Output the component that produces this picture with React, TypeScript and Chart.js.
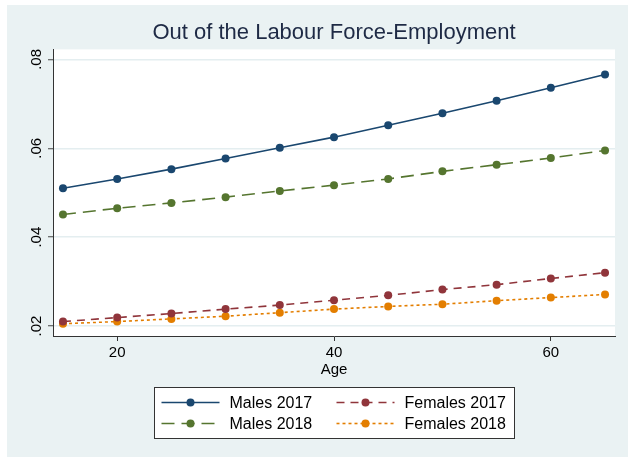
import React, { useEffect, useRef } from "react";
import { Chart, registerables } from "chart.js";

Chart.register(...registerables);

// Age groups on the horizontal axis
const ages = [15, 20, 25, 30, 35, 40, 45, 50, 55, 60, 65];

// Predicted probabilities by age
const males2017 = [0.051, 0.0531, 0.0553, 0.0577, 0.0601, 0.0625, 0.0652, 0.0679, 0.0707, 0.0736, 0.0766];
const males2018 = [0.0451, 0.0465, 0.0477, 0.049, 0.0504, 0.0517, 0.0531, 0.0548, 0.0563, 0.0578, 0.0595];
const females2017 = [0.021, 0.0219, 0.0228, 0.0238, 0.0247, 0.0258, 0.0269, 0.0282, 0.0293, 0.0307, 0.032];
const females2018 = [0.0205, 0.021, 0.0216, 0.0222, 0.023, 0.0238, 0.0244, 0.0249, 0.0257, 0.0264, 0.0271];

const xTicks = [20, 40, 60];
const yTicks = [0.02, 0.04, 0.06, 0.08];

const seriesLabels = ["Males 2017", "Males 2018", "Females 2017", "Females 2018"];
const seriesColors = ["#1a476f", "#55752f", "#90353b", "#e37e00"];
const seriesDashes: number[][] = [[], [13, 7], [8, 6], [3, 3]];

const FONT = '"Liberation Sans", Arial, Helvetica, sans-serif';
const BG = "#eaf2f3";

const fmtY = (v: number) => v.toFixed(2).replace(/^0/, "");

const backgroundPlugin = {
  id: "stataBackground",
  beforeDraw(chart: any) {
    const { ctx, width, height, chartArea } = chart;
    ctx.save();
    ctx.fillStyle = "#ffffff";
    ctx.fillRect(0, 0, width, height);
    ctx.fillStyle = BG;
    ctx.fillRect(7, 5, width - 7, height - 5);
    ctx.fillStyle = "#ffffff";
    ctx.fillRect(chartArea.left, chartArea.top, chartArea.right - chartArea.left, chartArea.bottom - chartArea.top);
    ctx.restore();
  },
};

// Vertical (rotated) labels on the y axis
const yLabelPlugin = {
  id: "rotatedYLabels",
  afterDraw(chart: any) {
    const { ctx } = chart;
    const y = chart.scales.y;
    ctx.save();
    ctx.fillStyle = "#000";
    ctx.font = `15px ${FONT}`;
    ctx.textAlign = "center";
    ctx.textBaseline = "alphabetic";
    y.ticks.forEach((t: any) => {
      const py = y.getPixelForValue(t.value);
      ctx.save();
      ctx.translate(y.right - 12, py);
      ctx.rotate(-Math.PI / 2);
      ctx.fillText(fmtY(t.value), 0, 0);
      ctx.restore();
    });
    ctx.restore();
  },
};

// Two-column legend with line + marker samples
const legendPlugin = {
  id: "boxLegend",
  afterDraw(chart: any) {
    const { ctx, chartArea } = chart;
    const cx = (chartArea.left + chartArea.right) / 2;
    const w = 360;
    const h = 51;
    const left = Math.round(cx - w / 2) + 0.5;
    const top = Math.round(chartArea.bottom + 51) + 0.5;
    ctx.save();
    ctx.fillStyle = "#ffffff";
    ctx.fillRect(left, top, w, h);
    ctx.strokeStyle = "#333";
    ctx.lineWidth = 1;
    ctx.strokeRect(left, top, w, h);

    const order = [0, 2, 1, 3];
    order.forEach((di, i) => {
      const ds = chart.data.datasets[di];
      const col = i % 2;
      const row = Math.floor(i / 2);
      const x0 = left + 7 + col * 175;
      const yy = top + 15 + row * 21;
      ctx.save();
      ctx.strokeStyle = ds.borderColor;
      ctx.lineWidth = ds.borderWidth;
      ctx.setLineDash(ds.borderDash || []);
      ctx.beginPath();
      ctx.moveTo(x0, yy);
      ctx.lineTo(x0 + 58, yy);
      ctx.stroke();
      ctx.setLineDash([]);
      ctx.fillStyle = ds.pointBackgroundColor;
      ctx.beginPath();
      ctx.arc(x0 + 29, yy, 4, 0, Math.PI * 2);
      ctx.fill();
      ctx.restore();
      ctx.fillStyle = "#000";
      ctx.font = `16px ${FONT}`;
      ctx.textAlign = "left";
      ctx.textBaseline = "middle";
      ctx.fillText(ds.label, x0 + 68, yy + 1);
    });
    ctx.restore();
  },
};

export default function App() {
  const canvasRef = useRef<HTMLCanvasElement | null>(null);

  useEffect(() => {
    if (!canvasRef.current) return;
    const seriesData = [males2017, males2018, females2017, females2018];
    const datasets = seriesData.map((vals, i) => ({
      label: seriesLabels[i],
      data: ages.map((a, j) => ({ x: a, y: vals[j] })),
      borderColor: seriesColors[i],
      backgroundColor: seriesColors[i],
      pointBackgroundColor: seriesColors[i],
      pointBorderWidth: 0,
      pointRadius: 4,
      borderWidth: 1.6,
      borderDash: seriesDashes[i],
      tension: 0,
      fill: false,
    }));

    const chart = new Chart(canvasRef.current, {
      type: "line",
      data: { datasets },
      options: {
        responsive: false,
        animation: false,
        devicePixelRatio: 1,
        layout: { padding: { left: 7, right: 13, top: 0, bottom: 78 } },
        scales: {
          x: {
            type: "linear",
            min: 14.08,
            max: 65.92,
            afterBuildTicks: (s: any) => {
              s.ticks = xTicks.map((v) => ({ value: v }));
            },
            afterFit: (s: any) => {
              s.height = 43;
            },
            grid: {
              drawOnChartArea: false,
              drawTicks: true,
              tickLength: 5,
              tickColor: "#333",
              tickWidth: 1,
            },
            border: { color: "#333", width: 1 },
            ticks: {
              color: "#000",
              font: { family: FONT, size: 15 },
              padding: 3,
              maxRotation: 0,
            },
            title: {
              display: true,
              text: "Age",
              color: "#000",
              font: { family: FONT, size: 15 },
              padding: 0,
            },
          },
          y: {
            type: "linear",
            min: 0.01775,
            max: 0.08225,
            afterBuildTicks: (s: any) => {
              s.ticks = yTicks.map((v) => ({ value: v }));
            },
            afterFit: (s: any) => {
              s.width = 46;
            },
            grid: {
              color: "#e4eef0",
              lineWidth: 1.5,
              drawTicks: true,
              tickLength: 5,
              tickColor: "#444",
              tickWidth: 1,
            },
            border: { color: "#333", width: 1 },
            ticks: { display: false },
          },
        },
        plugins: {
          legend: { display: false },
          tooltip: { enabled: false },
          title: {
            display: true,
            text: "Out of the Labour Force-Employment",
            fullSize: false,
            color: "#1e2a45",
            font: { family: FONT, size: 22, weight: "normal" },
            padding: { top: 20, bottom: 3 },
          },
        },
      },
      plugins: [backgroundPlugin, yLabelPlugin, legendPlugin],
    } as any);

    return () => chart.destroy();
  }, []);

  return (
    <div style={{ position: "fixed", left: 0, top: 0, width: 628, height: 457 }}>
      <canvas ref={canvasRef} width={628} height={457} style={{ display: "block" }} />
    </div>
  );
}
